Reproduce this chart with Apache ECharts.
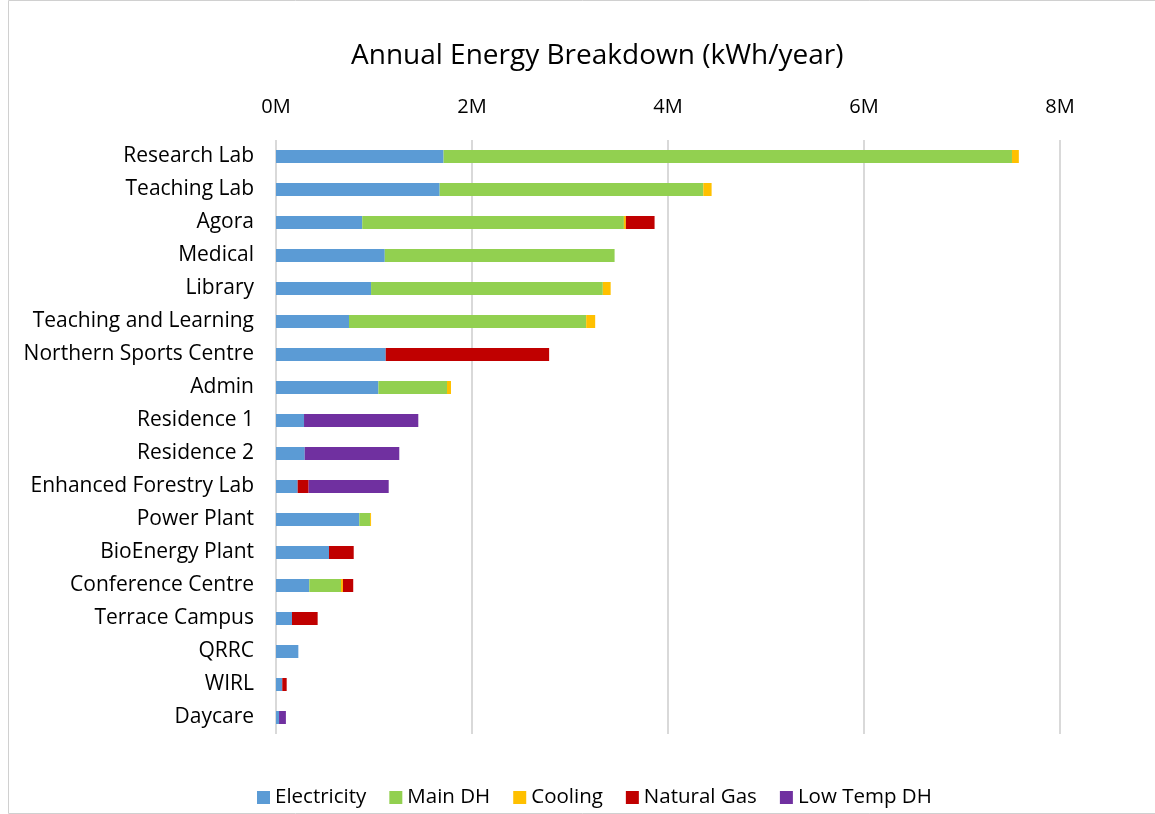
<!DOCTYPE html>
<html>
<head>
<meta charset="utf-8">
<script src="https://cdn.jsdelivr.net/npm/echarts@6/dist/echarts.min.js"></script>
<style>
    html, body { margin: 0; padding: 0; background: #fff; }
    #main { width: 1155px; height: 814px; }
</style>
</head>
<body>
<div id="main"></div>
<script>
const buildings = ['Research Lab', 'Teaching Lab', 'Agora', 'Medical', 'Library', 'Teaching and Learning',
    'Northern Sports Centre', 'Admin', 'Residence 1', 'Residence 2', 'Enhanced Forestry Lab', 'Power Plant',
    'BioEnergy Plant', 'Conference Centre', 'Terrace Campus', 'QRRC', 'WIRL', 'Daycare']

// kWh/year
const electricity = [1710000, 1670000, 880000, 1110000, 970000, 745000, 1120000, 1045000, 286000, 293000, 221000, 850000, 541000, 340000, 163000, 228000, 64000, 31000]
const mainDH = [5800000, 2690000, 2670000, 2345000, 2365000, 2420000, 0, 700000, 0, 0, 0, 110000, 0, 323000, 0, 0, 0, 0]
const cooling = [70000, 85000, 20000, 0, 80000, 92000, 0, 41000, 0, 0, 0, 10000, 0, 20000, 0, 0, 0, 0]
const naturalGas = [0, 0, 293000, 0, 0, 0, 1667000, 0, 0, 0, 112000, 0, 252000, 105000, 262000, 0, 45000, 0]
const lowTempDH = [0, 0, 0, 0, 0, 0, 0, 0, 1166000, 965000, 817000, 0, 0, 0, 0, 0, 0, 70000]

const colorList = ['#5b9bd5', '#92d050', '#ffc000', '#c00000', '#7030a0']
const fontName = 'Open Sans'

const myChart = echarts.init(document.getElementById('main'))

function makeSeries (name, data) {
    return {
        name: name,
        type: 'bar',
        stack: 'total',
        barWidth: 13,
        data: data,
        itemStyle: { borderWidth: 0 }
    }
}

myChart.setOption({
    animation: false,
    color: colorList,
    textStyle: { fontFamily: fontName },
    title: {
        text: 'Annual Energy Breakdown (kWh/year)',
        left: 346,
        top: 37,
        textStyle: { fontFamily: fontName, fontSize: 28, fontWeight: 'normal', color: '#000' }
    },
    graphic: [{
        type: 'rect',
        shape: { x: 8.5, y: 0.5, width: 1160, height: 813 },
        style: { fill: 'none', stroke: '#d0d0d0', lineWidth: 1 },
        silent: true
    }],
    legend: {
        bottom: 1,
        left: 252,
        itemWidth: 13,
        itemHeight: 13,
        itemGap: 23,
        icon: 'rect',
        textStyle: { fontFamily: fontName, fontSize: 20.5, color: '#000' },
        data: ['Electricity', 'Main DH', 'Cooling', 'Natural Gas', 'Low Temp DH']
    },
    grid: {
        left: 276,
        right: 95,
        top: 140,
        bottom: 80,
        containLabel: false
    },
    xAxis: {
        type: 'value',
        position: 'top',
        min: 0,
        max: 8000000,
        interval: 2000000,
        axisLine: { show: false },
        axisTick: { show: false },
        splitLine: { lineStyle: { color: '#d9d9d9', width: 2 } },
        axisLabel: {
            margin: 23,
            fontFamily: fontName,
            fontSize: 20,
            color: '#000',
            formatter: function (value) {
                return (value / 1000000) + 'M'
            }
        }
    },
    yAxis: {
        type: 'category',
        inverse: true,
        data: buildings,
        axisLine: { show: false },
        axisTick: { show: false },
        axisLabel: {
            margin: 22,
            fontFamily: fontName,
            fontSize: 21,
            color: '#000'
        }
    },
    series: [
        makeSeries('Electricity', electricity),
        makeSeries('Main DH', mainDH),
        makeSeries('Cooling', cooling),
        makeSeries('Natural Gas', naturalGas),
        makeSeries('Low Temp DH', lowTempDH)
    ]
})
</script>
</body>
</html>
